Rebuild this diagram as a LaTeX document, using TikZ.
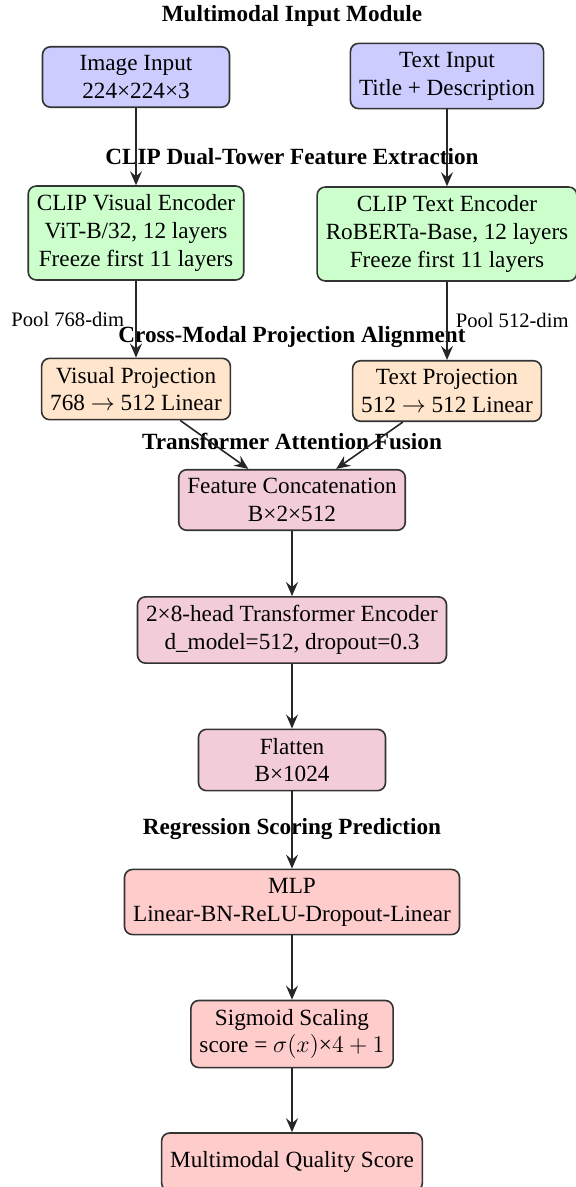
\documentclass[tikz,border=0pt]{standalone}
\usepackage{fontspec}
\setmainfont{Liberation Serif}
\usetikzlibrary{arrows.meta}
\tikzset{
  box/.style={draw=black!80, line width=0.8pt, rounded corners=4pt,
    align=center, inner sep=4.3pt, minimum width=93.5pt,
    font=\fontsize{11.6}{13.9}\selectfont},
  inbox/.style={box, fill=blue!20},
  encbox/.style={box, fill=green!20},
  projbox/.style={box, fill=orange!20},
  fusebox/.style={box, fill=purple!20},
  predbox/.style={box, fill=red!20},
  heading/.style={font=\fontsize{11.6}{13.9}\selectfont\bfseries, inner sep=0pt},
  flow/.style={draw=black!85, line width=0.8pt,
    -{Stealth[length=7pt,width=6pt,inset=2.5pt]}},
  poollabel/.style={font=\fontsize{10.3}{12}\selectfont, inner sep=0pt}
}
\begin{document}
\begin{tikzpicture}[x=0.5pt,y=-0.5pt]
\useasboundingbox (0,0) rectangle (576,1187);

% section headings
\node[heading] (h1) at (292,16) {Multimodal Input Module};
\node[heading] (h2) at (292,157) {CLIP Dual-Tower Feature Extraction};
\node[heading] (h3) at (292,337) {Cross-Modal Projection Alignment};
\node[heading] (h4) at (292,441) {Transformer Attention Fusion};
\node[heading] (h5) at (292,829) {Regression Scoring Prediction};

% inputs
\node[inbox] (inimg) at (136,77) {Image Input\\224×224×3};
\node[inbox] (intxt) at (447,76) {Text Input\\Title + Description};

% encoders
\node[encbox] (encv) at (136,233) {CLIP Visual Encoder\\ViT-B/32, 12 layers\\Freeze first 11 layers};
\node[encbox] (enct) at (447,234) {CLIP Text Encoder\\RoBERTa-Base, 12 layers\\Freeze first 11 layers};

% projections
\node[projbox] (projv) at (136,389) {Visual Projection\\768 $\rightarrow$ 512 Linear};
\node[projbox] (projt) at (447,391) {Text Projection\\512 $\rightarrow$ 512 Linear};

% fusion
\node[fusebox] (concat) at (292,500) {Feature Concatenation\\B×2×512};
\node[fusebox] (trans) at (292,630) {2×8-head Transformer Encoder\\d\_model=512, dropout=0.3};
\node[fusebox] (flat) at (292,760) {Flatten\\B×1024};

% prediction
\node[predbox] (mlp) at (292,902) {MLP\\Linear-BN-ReLU-Dropout-Linear};
\node[predbox] (sig) at (292,1034) {Sigmoid Scaling\\score = $\sigma(x)$×$4+1$};
\node[predbox, minimum height=29pt] (score) at (292,1162) {Multimodal Quality Score};

% connectors
\draw[flow] (inimg) -- (encv);
\draw[flow] (intxt) -- (enct);
\draw[flow] (encv) -- node[poollabel, anchor=east, xshift=-5.5pt] {Pool 768-dim} (projv);
\draw[flow] (enct) -- node[poollabel, anchor=west, xshift=4pt] {Pool 512-dim} (projt);
\draw[flow] (projv) -- (concat);
\draw[flow] (projt) -- (concat);
\draw[flow] (concat) -- (trans);
\draw[flow] (trans) -- (flat);
\draw[flow] (flat) -- (mlp);
\draw[flow] (mlp) -- (sig);
\draw[flow] (sig) -- (score);
\end{tikzpicture}
\end{document}
